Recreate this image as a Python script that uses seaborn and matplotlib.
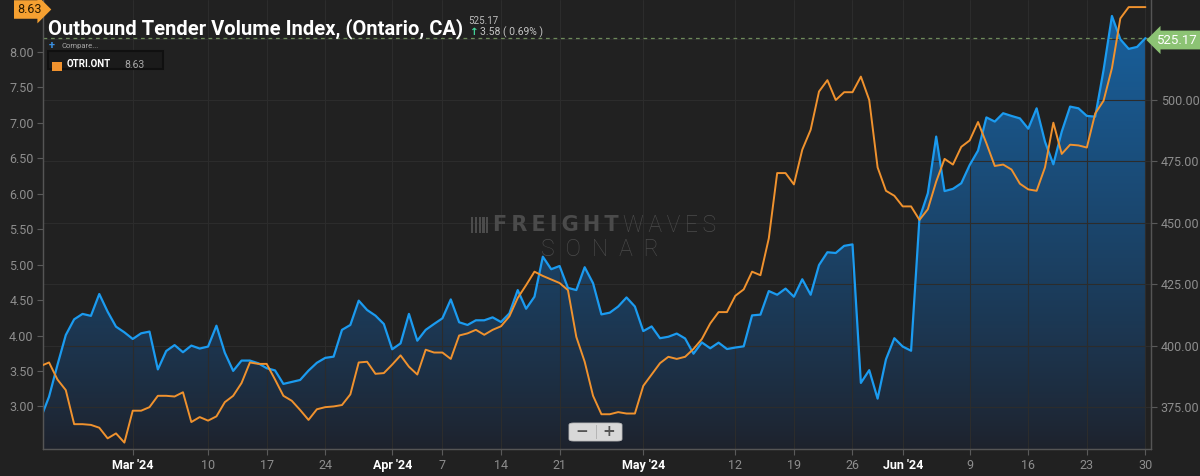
import numpy as np
import pandas as pd
import matplotlib
matplotlib.use("Agg")
import matplotlib.pyplot as plt
import matplotlib.dates as mdates
from matplotlib.patches import Rectangle, FancyBboxPatch
import seaborn as sns

# daily values, Feb 19 2024 .. Jun 30 2024
start_date = "2024-02-19"
otvi_values = [
    370.4, 379.2, 392.1, 404.3, 410.7, 412.9, 412.1, 421.0, 413.8, 407.7,
    405.4, 402.7, 405.0, 405.7, 390.3, 397.8, 400.2, 397.3, 400.0, 398.8,
    399.6, 408.1, 397.1, 389.7, 393.9, 393.9, 392.8, 390.8, 389.9, 384.4,
    385.2, 386.0, 389.8, 393.0, 395.0, 395.5, 406.4, 408.4, 418.3, 414.5,
    412.2, 408.8, 398.5, 400.9, 412.9, 402.0, 406.4, 408.8, 411.1, 418.8,
    409.5, 408.4, 410.3, 410.3, 411.5, 409.6, 413.1, 422.6, 415.0, 419.9,
    436.2, 431.1, 432.4, 423.5, 422.6, 431.9, 425.4, 412.7, 413.4, 415.9,
    419.6, 415.9, 405.9, 407.8, 403.0, 403.6, 404.9, 402.9, 396.7, 401.3,
    398.9, 401.2, 398.6, 399.2, 399.7, 412.3, 412.6, 422.2, 420.7, 423.2,
    419.9, 427.0, 420.7, 432.8, 438.0, 437.7, 440.6, 441.2, 384.8, 390.0,
    378.4, 394.4, 403.0, 399.6, 397.9, 451.8, 462.0, 485.1, 462.9, 463.8,
    466.1, 473.5, 479.4, 492.9, 491.2, 494.6, 493.5, 492.5, 488.3, 496.6,
    483.0, 473.8, 487.1, 497.3, 496.6, 493.5, 493.2, 512.2, 534.2, 524.7,
    520.8, 521.59, 525.17,
]
otri_values = [
    3.57, 3.62, 3.38, 3.23, 2.75, 2.75, 2.74, 2.70, 2.55, 2.62,
    2.49, 2.94, 2.94, 2.99, 3.15, 3.15, 3.14, 3.20, 2.78, 2.85,
    2.80, 2.86, 3.06, 3.15, 3.33, 3.62, 3.60, 3.60, 3.38, 3.15,
    3.08, 2.95, 2.81, 2.96, 2.99, 3.00, 3.02, 3.17, 3.62, 3.63,
    3.46, 3.47, 3.59, 3.72, 3.56, 3.45, 3.80, 3.76, 3.76, 3.67,
    4.00, 4.03, 4.08, 4.01, 4.08, 4.13, 4.27, 4.53, 4.71, 4.90,
    4.84, 4.79, 4.74, 4.64, 3.98, 3.63, 3.15, 2.89, 2.89, 2.92,
    2.90, 2.90, 3.29, 3.45, 3.61, 3.70, 3.67, 3.70, 3.81, 3.95,
    4.17, 4.33, 4.33, 4.56, 4.65, 4.90, 4.85, 5.37, 6.29, 6.29,
    6.13, 6.62, 6.90, 7.44, 7.60, 7.32, 7.43, 7.43, 7.65, 7.32,
    6.37, 6.04, 5.97, 5.82, 5.82, 5.63, 5.78, 6.17, 6.49, 6.41,
    6.66, 6.75, 7.01, 6.71, 6.39, 6.41, 6.34, 6.14, 6.06, 6.04,
    6.37, 7.00, 6.56, 6.69, 6.68, 6.65, 7.13, 7.31, 7.77, 8.47,
    8.63, 8.63, 8.63,
]
tick_dates = ["2024-03-01", "2024-03-10", "2024-03-17", "2024-03-24",
              "2024-04-01", "2024-04-07", "2024-04-14", "2024-04-21",
              "2024-05-01", "2024-05-12", "2024-05-19", "2024-05-26",
              "2024-06-01", "2024-06-09", "2024-06-16", "2024-06-23",
              "2024-06-30"]
tick_labels = ["Mar '24", "10", "17", "24", "Apr '24", "7", "14", "21",
               "May '24", "12", "19", "26", "Jun '24", "9", "16", "23", "30"]
left_ticks = [3.0, 3.5, 4.0, 4.5, 5.0, 5.5, 6.0, 6.5, 7.0, 7.5, 8.0, 8.5]
right_ticks = [375, 400, 425, 450, 475, 500, 525]

title = "Outbound Tender Volume Index, (Ontario, CA)"
last_otvi = "525.17"
change_text = "3.58 ( 0.69% )"
last_otri = "8.63"

BG = "#212121"
BLUE = "#1b9bf0"
ORANGE = "#f0922e"
GRID = "#2c2c2c"
TICK = "#8e8e8e"

df = pd.DataFrame({
    "date": pd.date_range(start_date, periods=len(otvi_values), freq="D"),
    "otvi": otvi_values,
    "otri": otri_values,
})

sns.set_theme(style="dark", rc={
    "figure.facecolor": BG, "axes.facecolor": BG, "savefig.facecolor": BG,
    "axes.edgecolor": "#555555", "grid.color": GRID,
})
plt.rcParams["font.family"] = ["Roboto", "DejaVu Sans"]

W, H = 1200, 476
fig, ax = plt.subplots(figsize=(W / 100, H / 100), dpi=100)
fig.subplots_adjust(left=43.3 / W, right=1151 / W, bottom=1 - 449 / H, top=1.0)


def px(x, y):
    return x / W, 1 - y / H


# blue series (volume index) on primary axes, ticks on right
ax2 = ax.twinx()
ax.yaxis.tick_right()
ax2.yaxis.tick_left()
ax2.patch.set_visible(False)

x0 = pd.Timestamp(start_date) + pd.Timedelta(hours=7.5)
x1 = pd.Timestamp("2024-06-30") + pd.Timedelta(hours=16)
ylo, yhi = 357.9, 540.7
ax.set_xlim(x0, x1)
ax.set_ylim(ylo, yhi)
ax2.set_ylim(2.40, 8.73)

poly = ax.fill_between(df["date"], df["otvi"], ylo, color="none", lw=0)
top_c = np.array([24, 98, 160]) / 255
bot_c = np.array([30, 34, 44]) / 255
t = np.linspace(0, 1, 256)[:, None] ** 0.85
grad = bot_c + (top_c - bot_c) * t
grad = np.repeat(grad[:, None, :], 2, axis=1)
im = ax.imshow(grad, extent=[mdates.date2num(x0), mdates.date2num(x1), ylo, yhi],
               origin="lower", aspect="auto", zorder=1)
im.set_clip_path(poly.get_paths()[0], transform=ax.transData)
ax.set_xlim(x0, x1)
ax.set_ylim(ylo, yhi)

sns.lineplot(data=df, x="date", y="otvi", ax=ax, color=BLUE, lw=1.6, zorder=3)
sns.lineplot(data=df, x="date", y="otri", ax=ax2, color=ORANGE, lw=1.4, zorder=3)
ax.axhline(float(last_otvi), color="#6d8a5a", lw=0.9, ls=(0, (3, 3)), zorder=2)

ax.set_xticks(pd.to_datetime(tick_dates))
ax.set_xticklabels(tick_labels)
ax.set_yticks(right_ticks)
# top labels sit under the value tags
ax.set_yticklabels([f"{v:.2f}" if v < 525 else "" for v in right_ticks])
ax2.set_yticks(left_ticks)
ax2.set_yticklabels([f"{v:.2f}" if v < 8.5 else "" for v in left_ticks])
for a in (ax, ax2):
    a.set_xlabel("")
    a.set_ylabel("")
ax.set_axisbelow("line")
ax.grid(True, color=GRID, lw=0.8)
ax2.grid(False)

ax.tick_params(axis="x", colors="#5a5a5a", labelcolor=TICK, labelsize=9,
               length=4, width=0.8, direction="out", bottom=True, pad=3)
ax.tick_params(axis="y", colors="#5a5a5a", labelcolor=TICK, labelsize=9,
               length=4, width=0.8, right=True, pad=3)
ax2.tick_params(axis="y", colors="#5a5a5a", labelcolor=TICK, labelsize=9,
                length=4, width=0.8, left=True, pad=3)
for lab in ax.get_xticklabels():
    if "'" in lab.get_text():
        lab.set_color("white")
        lab.set_fontweight("bold")
for a in (ax, ax2):
    a.spines["top"].set_visible(False)
    for s in ("left", "right", "bottom"):
        a.spines[s].set_color("#555555")
        a.spines[s].set_linewidth(0.9)

# header texts
fig.text(*px(48, 29), title, fontsize=14.5, weight="bold", color="white", va="center")
fig.text(*px(468, 21), last_otvi, fontsize=7, color="#bdbdbd", va="center")
fig.text(*px(470, 32), "\u2191", fontsize=7.5, color="#43d69b", va="center",
         family=["DejaVu Sans"], weight="bold")
fig.text(*px(480, 32), change_text, fontsize=7.5, color="#c4c4c4", va="center")
fig.text(*px(49, 46), "+", fontsize=8, color="#3a8fe0", va="center", weight="bold")
fig.text(*px(61, 46), "Compare...", fontsize=5.5, color="#a8a8a8", va="center")
fig.add_artist(Rectangle(px(48, 69), 115 / W, 18 / H, transform=fig.transFigure,
                         facecolor="#1b1b1b", edgecolor="#101010", lw=1.5))
fig.add_artist(Rectangle(px(52, 71), 10 / W, 9 / H, transform=fig.transFigure,
                         facecolor=ORANGE, edgecolor="none"))
fig.text(*px(67, 64), "OTRI.ONT", fontsize=7, weight="bold", color="white", va="center")
fig.text(*px(124, 65), last_otri, fontsize=7.5, color="#a8a8a8", va="center")

# value tags
fig.text(*px(29, 9.5), last_otri, fontsize=9, color="#2a1a00", va="center", ha="center",
         bbox=dict(boxstyle="rarrow,pad=0.22", fc="#f5a031", ec="none"))
fig.text(*px(1177, 40), last_otvi, fontsize=9.5, color="white", va="center", ha="center",
         bbox=dict(boxstyle="larrow,pad=0.22", fc="#8cc374", ec="none"))

# watermark
wm = "#4b4b4b"
for i in range(5):
    fig.add_artist(Rectangle(px(471 + i * 3.8, 233), 2.2 / W, 16 / H,
                             transform=fig.transFigure, facecolor=wm, edgecolor="none"))
thin = "\u2009"
fig.text(*px(493, 225), thin.join("FREIGHT"), fontsize=15, weight="bold", color=wm,
         va="center", family=["DejaVu Sans"])
fig.text(*px(623, 225), thin.join("WAVES"), fontsize=16.5, weight="light", color=wm,
         va="center", family=["Roboto", "DejaVu Sans"])
fig.text(*px(600, 249), "S  O  N  A  R", fontsize=16.5, weight="light", color=wm,
         va="center", ha="center")

# zoom buttons
fig.add_artist(FancyBboxPatch(px(569, 441), 53 / W, 18 / H, transform=fig.transFigure,
                              boxstyle="round,pad=0,rounding_size=0.004",
                              facecolor="#d8d8d8", edgecolor="#bbbbbb", lw=0.6))
fig.add_artist(Rectangle(px(596, 439), 0.8 / W, 14 / H, transform=fig.transFigure,
                         facecolor="#b5b5b5", edgecolor="none"))
fig.text(*px(582, 432), "\u2212", fontsize=11, weight="bold", color="#555555",
         va="center", ha="center", family=["DejaVu Sans"])
fig.text(*px(609, 432), "+", fontsize=11, weight="bold", color="#555555",
         va="center", ha="center", family=["DejaVu Sans"])

fig.savefig("out.png", dpi=100)
